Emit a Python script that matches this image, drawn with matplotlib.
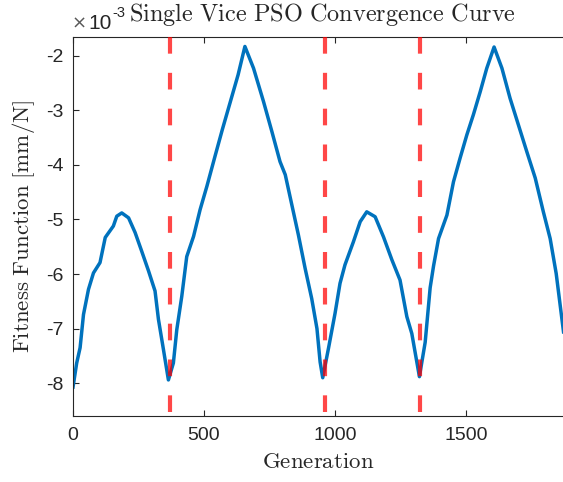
import numpy as np
import matplotlib.pyplot as plt

plt.rcParams['mathtext.fontset'] = 'cm'
plt.rcParams['axes.unicode_minus'] = False
plt.rcParams['font.family'] = ['Liberation Sans', 'DejaVu Sans']

# fitness values, in units of 1e-3 mm/N
generation = [0, 14, 27, 40, 59, 78, 103, 123, 154, 167, 186, 212, 237, 262,
              288, 313, 326, 345, 364,
              383, 396, 415, 434, 460, 485, 511, 542, 570, 600, 630, 656,
              689, 727, 759, 790, 810, 835, 860, 886, 911, 931, 943, 953,
              975, 1000, 1019, 1038, 1070, 1096, 1121, 1153, 1185, 1217,
              1248, 1274, 1293, 1322,
              1344, 1363, 1376, 1395, 1427, 1452, 1477, 1503, 1528, 1554,
              1579, 1607, 1637, 1668, 1700, 1732, 1764, 1795, 1821, 1844, 1872]
fitness = [-8.07, -7.63, -7.35, -6.74, -6.28, -5.98, -5.79, -5.33, -5.12,
           -4.94, -4.88, -4.97, -5.24, -5.58, -5.94, -6.31, -6.83, -7.38, -7.94,
           -7.63, -7.02, -6.41, -5.68, -5.31, -4.82, -4.39, -3.84, -3.35,
           -2.85, -2.35, -1.83,
           -2.23, -2.84, -3.39, -3.94, -4.18, -4.73, -5.28, -5.90, -6.45,
           -7.00, -7.61, -7.90,
           -7.36, -6.72, -6.17, -5.83, -5.41, -5.04, -4.86, -4.95, -5.32,
           -5.74, -6.11, -6.78, -7.09, -7.88,
           -7.25, -6.25, -5.85, -5.35, -4.92, -4.31, -3.88, -3.45, -3.08,
           -2.66, -2.23, -1.84, -2.23, -2.78, -3.27, -3.76, -4.24, -4.86,
           -5.35, -5.99, -7.06]

# generations where the vice switches
switch_gen = [370, 962, 1323]

yticks = [-8, -7, -6, -5, -4, -3, -2]
xticks = [0, 500, 1000, 1500]

fig = plt.figure(figsize=(5.63, 4.82), dpi=100)
ax = fig.add_axes([0.1297, 0.137, 0.8703, 0.787])

ax.plot(generation, fitness, color='#0072BD', lw=2.5, zorder=2)

ylo, yhi = -8.6, -1.65
for g in switch_gen:
    ax.plot([g, g], [yhi, ylo], color='red', alpha=0.72, lw=3.0,
            linestyle=(0, (4.0, 4.6)), zorder=3, solid_capstyle='butt',
            dash_capstyle='butt')

ax.set_xlim(0, 1870)
ax.set_ylim(ylo, yhi)
ax.set_xticks(xticks)
ax.set_yticks(yticks)
ax.set_yticklabels([str(t) for t in yticks])

ax.tick_params(direction='in', length=4, width=0.8, labelsize=14,
               top=True, right=False, colors='#262626')
ax.tick_params(axis='y', pad=7)
ax.tick_params(axis='x', pad=8)
for s in ['left', 'bottom', 'top']:
    ax.spines[s].set_color('#262626')
    ax.spines[s].set_linewidth(0.8)
ax.spines['right'].set_visible(False)

ax.set_title(r'$\mathrm{Single\ Vice\ PSO\ Convergence\ Curve}$',
             fontsize=17.5, pad=11, color='#262626', x=0.51)
ax.set_xlabel(r'$\mathrm{Generation}$', fontsize=16.5, color='#262626',
              labelpad=4)
ax.set_ylabel(r'$\mathrm{Fitness\ Function\ [mm/N]}$', fontsize=16.5,
              color='#262626', labelpad=6)

# exponent label above the y axis
fig.text(72 / 563, 1 - 29 / 482, '×', fontsize=13, color='#595959',
         ha='left', va='baseline', family='DejaVu Sans')
fig.text(88 / 563, 1 - 29 / 482, '10', fontsize=15, color='#262626',
         ha='left', va='baseline')
fig.text(112 / 563, 1 - 17 / 482, '-3', fontsize=10.5, color='#262626',
         ha='left', va='baseline')

fig.savefig('out.png', dpi=100)
